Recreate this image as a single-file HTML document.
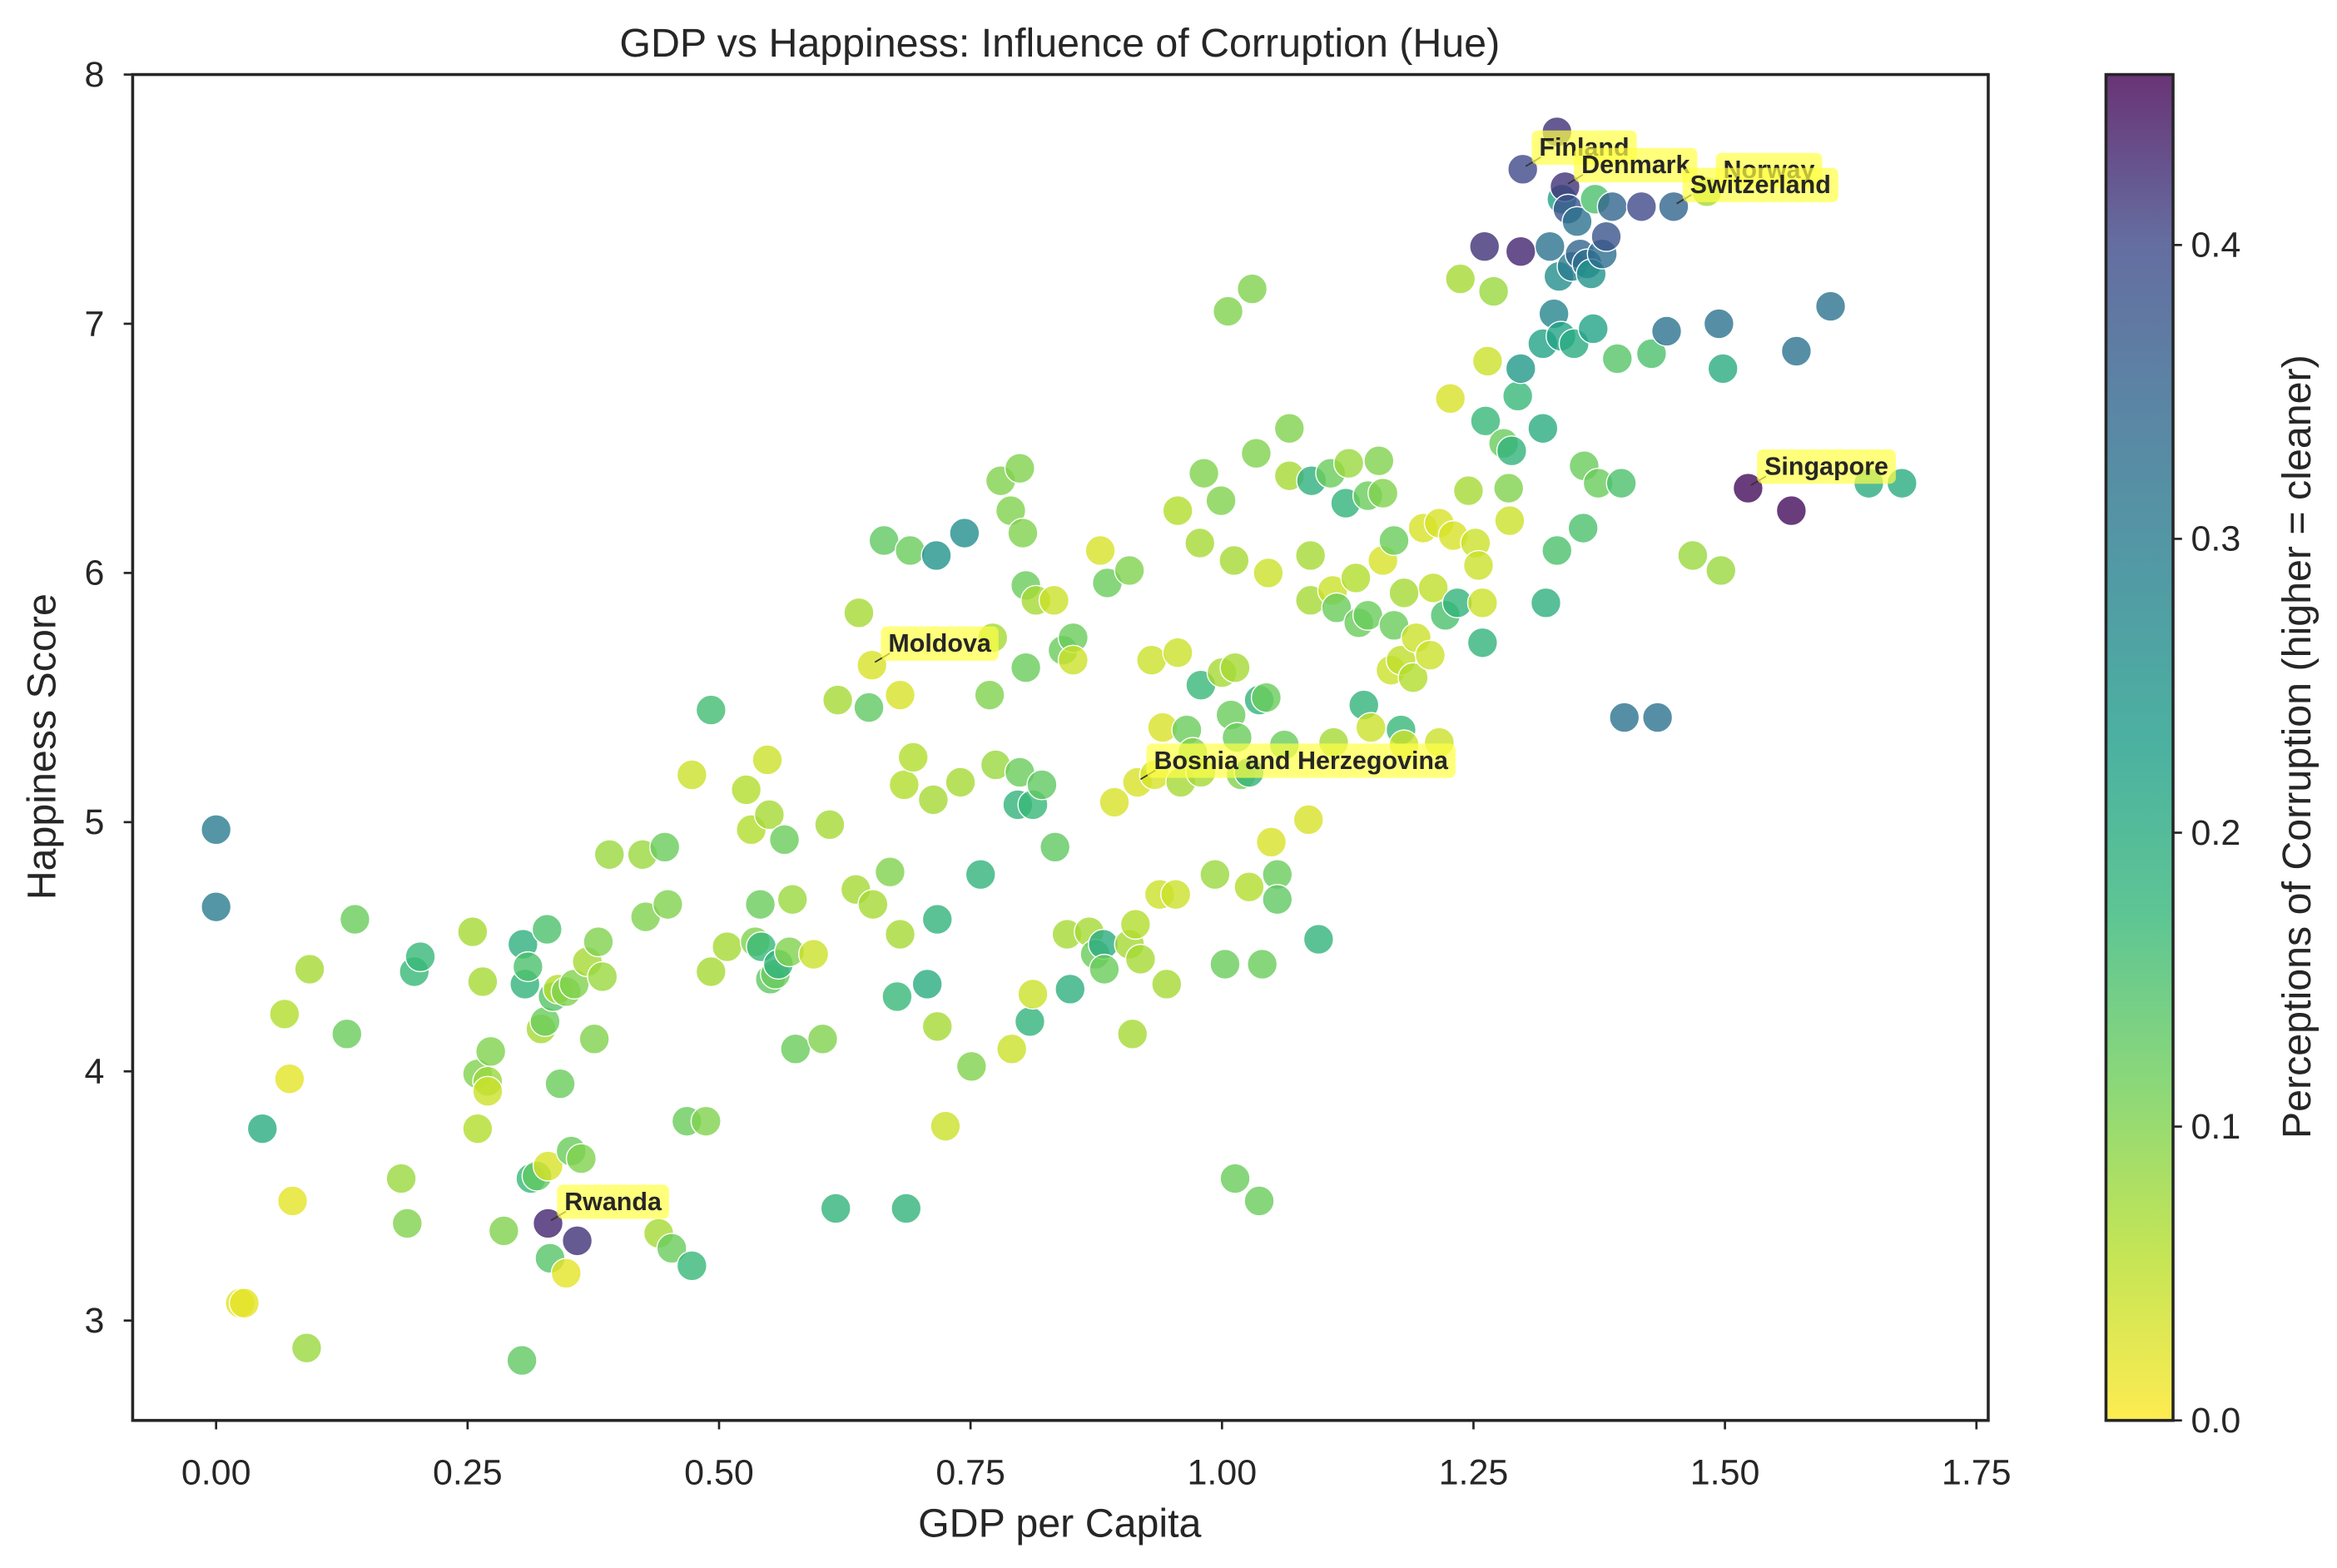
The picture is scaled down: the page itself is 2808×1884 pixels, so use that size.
<!DOCTYPE html>
<html><head><meta charset="utf-8"><style>
html,body{margin:0;padding:0;background:#fff}
svg{display:block}
text{font-family:"Liberation Sans",Arial,sans-serif;fill:#262626}
</style></head><body>
<svg id="chart" width="2808" height="1884" viewBox="0 0 1568 1052" xmlns="http://www.w3.org/2000/svg">
<defs>
<linearGradient id="cbg" x1="0" y1="1" x2="0" y2="0">
<stop offset="0" stop-color="#fde725"/><stop offset="0.125" stop-color="#b5de2b"/><stop offset="0.25" stop-color="#6ece58"/><stop offset="0.375" stop-color="#35b779"/><stop offset="0.5" stop-color="#1f9e89"/><stop offset="0.625" stop-color="#26828e"/><stop offset="0.75" stop-color="#31688e"/><stop offset="0.875" stop-color="#3e4989"/><stop offset="1" stop-color="#440154"/>
</linearGradient>
</defs>
<text x="711" y="38" font-size="27" text-anchor="middle">GDP vs Happiness: Influence of Corruption (Hue)</text>
<g id="points"></g>
<g id="annots"></g>
<rect x="89" y="50" width="1245" height="903" fill="none" stroke="#262626" stroke-width="2"/>
<g id="xticks"></g>
<g id="yticks"></g>
<text x="711" y="1031" font-size="27" text-anchor="middle">GDP per Capita</text>
<text transform="translate(37,501) rotate(-90)" font-size="27" text-anchor="middle">Happiness Score</text>
<rect x="1413" y="50" width="45" height="903" fill="url(#cbg)" opacity="0.8"/>
<rect x="1413" y="50" width="45" height="903" fill="none" stroke="#262626" stroke-width="2"/>
<g id="cticks"></g>
<text transform="translate(1550,501) rotate(-90)" font-size="27" text-anchor="middle">Perceptions of Corruption (higher = cleaner)</text>
</svg>
<script>
const gdp=[0,0,0.046,0.024,0.028,0.076,0.073,0.068,0.093,0.09,0.13,0.138,0.184,0.19,0.197,0.203,0.255,0.26,0.26,0.265,0.27,0.273,0.27,0.286,0.304,0.305,0.307,0.31,0.313,0.319,0.323,0.329,0.327,0.33,0.33,0.332,0.335,0.34,0.342,0.348,0.348,0.353,0.359,0.356,0.363,0.369,0.376,0.38,0.384,0.391,0.424,0.427,0.44,0.446,0.449,0.453,0.468,0.473,0.473,0.487,0.492,0.492,0.508,0.527,0.532,0.536,0.542,0.541,0.548,0.55,0.551,0.556,0.559,0.565,0.57,0.573,0.576,0.594,0.603,0.61,0.616,0.618,0.636,0.639,0.649,0.653,0.652,0.67,0.664,0.677,0.68,0.68,0.684,0.686,0.69,0.693,0.707,0.713,0.716,0.717,0.717,0.725,0.74,0.744,0.751,0.76,0.769,0.772,0.775,0.78,0.79,0.791,0.799,0.799,0.802,0.805,0.805,0.797,0.809,0.812,0.812,0.815,0.821,0.833,0.834,0.842,0.846,0.852,0.849,0.852,0.868,0.874,0.879,0.882,0.883,0.886,0.893,0.908,0.908,0.911,0.914,0.919,0.916,0.93,0.933,0.938,0.941,0.945,0.954,0.956,0.956,0.959,0.965,0.971,0.978,0.979,0.982,0.979,0.993,0.999,1.0,1.003,1.006,1.009,1.012,1.013,1.015,1.013,1.019,1.027,1.027,1.03,1.034,1.037,1.037,1.04,1.044,1.046,1.049,1.055,1.055,1.062,1.067,1.067,1.086,1.088,1.088,1.089,1.096,1.108,1.11,1.111,1.114,1.123,1.126,1.133,1.136,1.141,1.145,1.145,1.148,1.156,1.16,1.16,1.168,1.171,1.171,1.178,1.178,1.181,1.181,1.19,1.193,1.2,1.207,1.21,1.216,1.216,1.222,1.227,1.23,1.234,1.237,1.245,1.252,1.255,1.259,1.259,1.261,1.262,1.264,1.27,1.28,1.285,1.286,1.288,1.294,1.297,1.297,1.299,1.319,1.319,1.322,1.326,1.33,1.333,1.333,1.335,1.337,1.338,1.341,1.344,1.348,1.35,1.353,1.356,1.359,1.36,1.363,1.367,1.369,1.371,1.374,1.378,1.382,1.388,1.393,1.397,1.4,1.417,1.427,1.433,1.442,1.449,1.468,1.482,1.494,1.496,1.498,1.523,1.566,1.571,1.605,1.643,1.676];
const happiness=[4.97,4.66,3.77,3.07,3.07,3.48,3.97,4.23,4.41,2.89,4.15,4.61,3.57,3.39,4.4,4.46,4.56,3.99,3.77,4.36,3.96,4.08,3.92,3.36,2.84,4.51,4.35,4.42,3.57,3.58,4.17,4.57,4.2,3.62,3.39,3.25,4.3,4.33,3.95,3.19,4.32,3.68,3.32,4.35,3.65,4.44,4.13,4.52,4.38,4.87,4.87,4.62,3.35,4.9,4.67,3.29,3.8,3.22,5.19,3.8,5.45,4.4,4.5,5.13,4.97,4.52,4.5,4.67,5.25,5.03,4.37,4.39,4.43,4.93,4.48,4.69,4.09,4.47,4.13,4.99,3.45,5.49,4.73,5.84,5.46,4.67,5.63,4.8,6.13,4.3,4.55,5.51,5.15,3.45,6.09,5.26,4.35,5.09,6.07,4.61,4.18,3.78,5.16,6.16,4.02,4.79,5.51,5.74,5.23,6.37,6.25,4.09,6.42,5.2,6.16,5.95,5.62,5.07,4.2,5.07,4.31,5.89,5.15,5.89,4.9,5.69,4.55,5.74,4.33,5.65,4.56,4.47,6.09,4.51,4.41,5.96,5.08,6.01,4.51,4.15,4.59,4.45,5.16,5.65,5.19,4.71,5.38,4.35,4.71,6.25,5.68,5.16,5.37,5.28,6.12,5.55,6.4,5.2,4.79,6.29,5.6,4.43,7.05,5.43,6.05,3.57,5.34,5.62,5.19,4.74,5.2,7.14,6.48,3.48,5.49,4.43,5.5,6.0,4.92,4.79,4.69,5.31,6.58,6.39,5.01,6.07,5.89,6.37,4.53,6.4,5.93,5.32,5.86,6.28,6.44,5.98,5.8,5.47,6.31,5.83,5.38,6.45,6.05,6.32,5.61,6.13,5.79,5.65,5.37,5.31,5.92,5.58,5.74,6.18,5.67,5.94,6.2,5.32,5.83,6.7,6.15,5.88,7.18,6.33,6.12,6.03,5.88,5.72,7.31,6.61,6.85,7.13,6.52,6.34,6.21,6.49,6.71,7.29,6.82,7.62,6.58,6.92,5.88,7.31,7.04,6.09,7.77,7.19,6.95,7.5,7.55,7.46,7.23,6.92,7.41,7.28,6.18,6.43,7.24,7.2,6.98,7.5,6.36,7.28,7.35,7.47,6.86,6.36,5.42,7.47,6.88,5.42,6.97,7.47,6.07,7.53,7.0,6.01,6.82,6.34,6.25,6.89,7.07,6.36,6.36];
const corruption=[0.3,0.3,0.2,0.02,0.02,0.02,0.02,0.06,0.07,0.08,0.12,0.12,0.08,0.1,0.17,0.17,0.07,0.1,0.06,0.07,0.08,0.1,0.04,0.1,0.13,0.19,0.18,0.15,0.17,0.13,0.07,0.15,0.12,0.03,0.43,0.14,0.14,0.06,0.12,0.02,0.1,0.12,0.42,0.1,0.1,0.07,0.1,0.1,0.08,0.08,0.08,0.1,0.07,0.12,0.1,0.12,0.12,0.17,0.04,0.1,0.16,0.07,0.07,0.06,0.06,0.1,0.17,0.12,0.04,0.07,0.13,0.12,0.18,0.12,0.1,0.08,0.12,0.04,0.1,0.07,0.18,0.07,0.07,0.07,0.13,0.07,0.03,0.1,0.13,0.17,0.07,0.03,0.06,0.18,0.12,0.06,0.2,0.07,0.25,0.18,0.07,0.04,0.07,0.26,0.1,0.18,0.1,0.07,0.08,0.1,0.1,0.04,0.1,0.12,0.1,0.12,0.12,0.18,0.18,0.17,0.04,0.07,0.13,0.04,0.13,0.12,0.07,0.12,0.19,0.04,0.07,0.12,0.03,0.2,0.12,0.12,0.03,0.1,0.07,0.07,0.06,0.07,0.03,0.04,0.03,0.04,0.03,0.07,0.04,0.06,0.04,0.07,0.12,0.1,0.07,0.17,0.1,0.07,0.08,0.1,0.07,0.12,0.1,0.12,0.07,0.12,0.12,0.07,0.1,0.06,0.18,0.1,0.1,0.12,0.18,0.12,0.12,0.04,0.03,0.12,0.13,0.12,0.1,0.07,0.03,0.07,0.07,0.19,0.18,0.12,0.04,0.07,0.12,0.18,0.08,0.06,0.12,0.18,0.12,0.12,0.04,0.1,0.03,0.1,0.04,0.12,0.12,0.05,0.17,0.04,0.07,0.06,0.04,0.03,0.04,0.05,0.03,0.04,0.15,0.03,0.03,0.18,0.07,0.07,0.04,0.04,0.04,0.18,0.42,0.17,0.04,0.08,0.12,0.1,0.04,0.18,0.17,0.43,0.24,0.4,0.2,0.22,0.19,0.32,0.28,0.15,0.42,0.26,0.22,0.22,0.42,0.38,0.3,0.2,0.32,0.35,0.15,0.12,0.33,0.25,0.22,0.15,0.12,0.33,0.38,0.35,0.14,0.15,0.32,0.4,0.15,0.32,0.32,0.35,0.08,0.07,0.32,0.08,0.2,0.45,0.45,0.32,0.32,0.2,0.2];
const xTicks=["0.00","0.25","0.50","0.75","1.00","1.25","1.50","1.75"];
const yTicks=["3","4","5","6","7","8"];
const cTicks=["0.0","0.1","0.2","0.3","0.4"];
const labelNames=["Finland","Denmark","Norway","Switzerland","Singapore","Moldova","Bosnia and Herzegovina","Rwanda"];
const labelGdp=[1.299,1.341,1.482,1.449,1.523,0.652,0.916,0.33];
const labelHap=[7.62,7.55,7.53,7.47,6.34,5.63,5.16,3.39];

const NS="http://www.w3.org/2000/svg";
const X=v=>145+674.9*v, Y=v=>886-167.2*(v-3), CMAX=0.458;
const C=v=>953-903*v/CMAX;
const vir=[[253,231,37],[181,222,43],[110,206,88],[53,183,121],[31,158,137],[38,130,142],[49,104,142],[62,73,137],[68,1,84]];
function col(v){let t=Math.max(0,Math.min(1,v/CMAX))*8,i=Math.min(7,Math.floor(t)),f=t-i,a=vir[i],b=vir[i+1];
return `rgb(${a.map((c,k)=>Math.round(c+(b[k]-c)*f)).join(',')})`;}
function mk(tag,attrs,parent){const e=document.createElementNS(NS,tag);for(const k in attrs)e.setAttribute(k,attrs[k]);parent.appendChild(e);return e;}
const pg=document.getElementById('points');
gdp.forEach((g,i)=>{const c=mk('circle',{cx:X(g),cy:Y(happiness[i]),r:10,fill:col(corruption[i]),'fill-opacity':0.8,stroke:'#fff','stroke-width':0.8},pg);

});
const ag=document.getElementById('annots');
labelNames.forEach((n,i)=>{const px=X(labelGdp[i]),py=Y(labelHap[i]);const g=mk('g',{},ag);


const tx=px+10,ty=py-10;
mk('line',{x1:px+2,y1:py-2,x2:tx+2,y2:ty+2,stroke:'#333','stroke-width':1},g);
const r=mk('rect',{x:tx-4,y:ty-16,width:10,height:23,rx:4,fill:'#ffff44','fill-opacity':0.7},g);
const t=mk('text',{x:tx+1,y:ty+1,'font-size':17,'font-weight':'bold',fill:'#222'},g);t.textContent=n;
const w=t.getComputedTextLength();r.setAttribute('width',w+10);});
const xg=document.getElementById('xticks');
xTicks.forEach(s=>{const x=X(parseFloat(s));mk('line',{x1:x,y1:953,x2:x,y2:959,stroke:'#262626','stroke-width':1.5},xg);
const t=mk('text',{x:x,y:996,'font-size':24,'text-anchor':'middle'},xg);t.textContent=s;

});
const yg=document.getElementById('yticks');
yTicks.forEach(s=>{const y=Y(parseFloat(s));mk('line',{x1:83,y1:y,x2:89,y2:y,stroke:'#262626','stroke-width':1.5},yg);
const t=mk('text',{x:70,y:y+8,'font-size':24,'text-anchor':'end'},yg);t.textContent=s;

});
const cg=document.getElementById('cticks');
cTicks.forEach(s=>{const y=C(parseFloat(s));mk('line',{x1:1458,y1:y,x2:1464,y2:y,stroke:'#262626','stroke-width':1.5},cg);
const t=mk('text',{x:1470,y:y+8,'font-size':24},cg);t.textContent=s;

});
</script>
</body></html>
